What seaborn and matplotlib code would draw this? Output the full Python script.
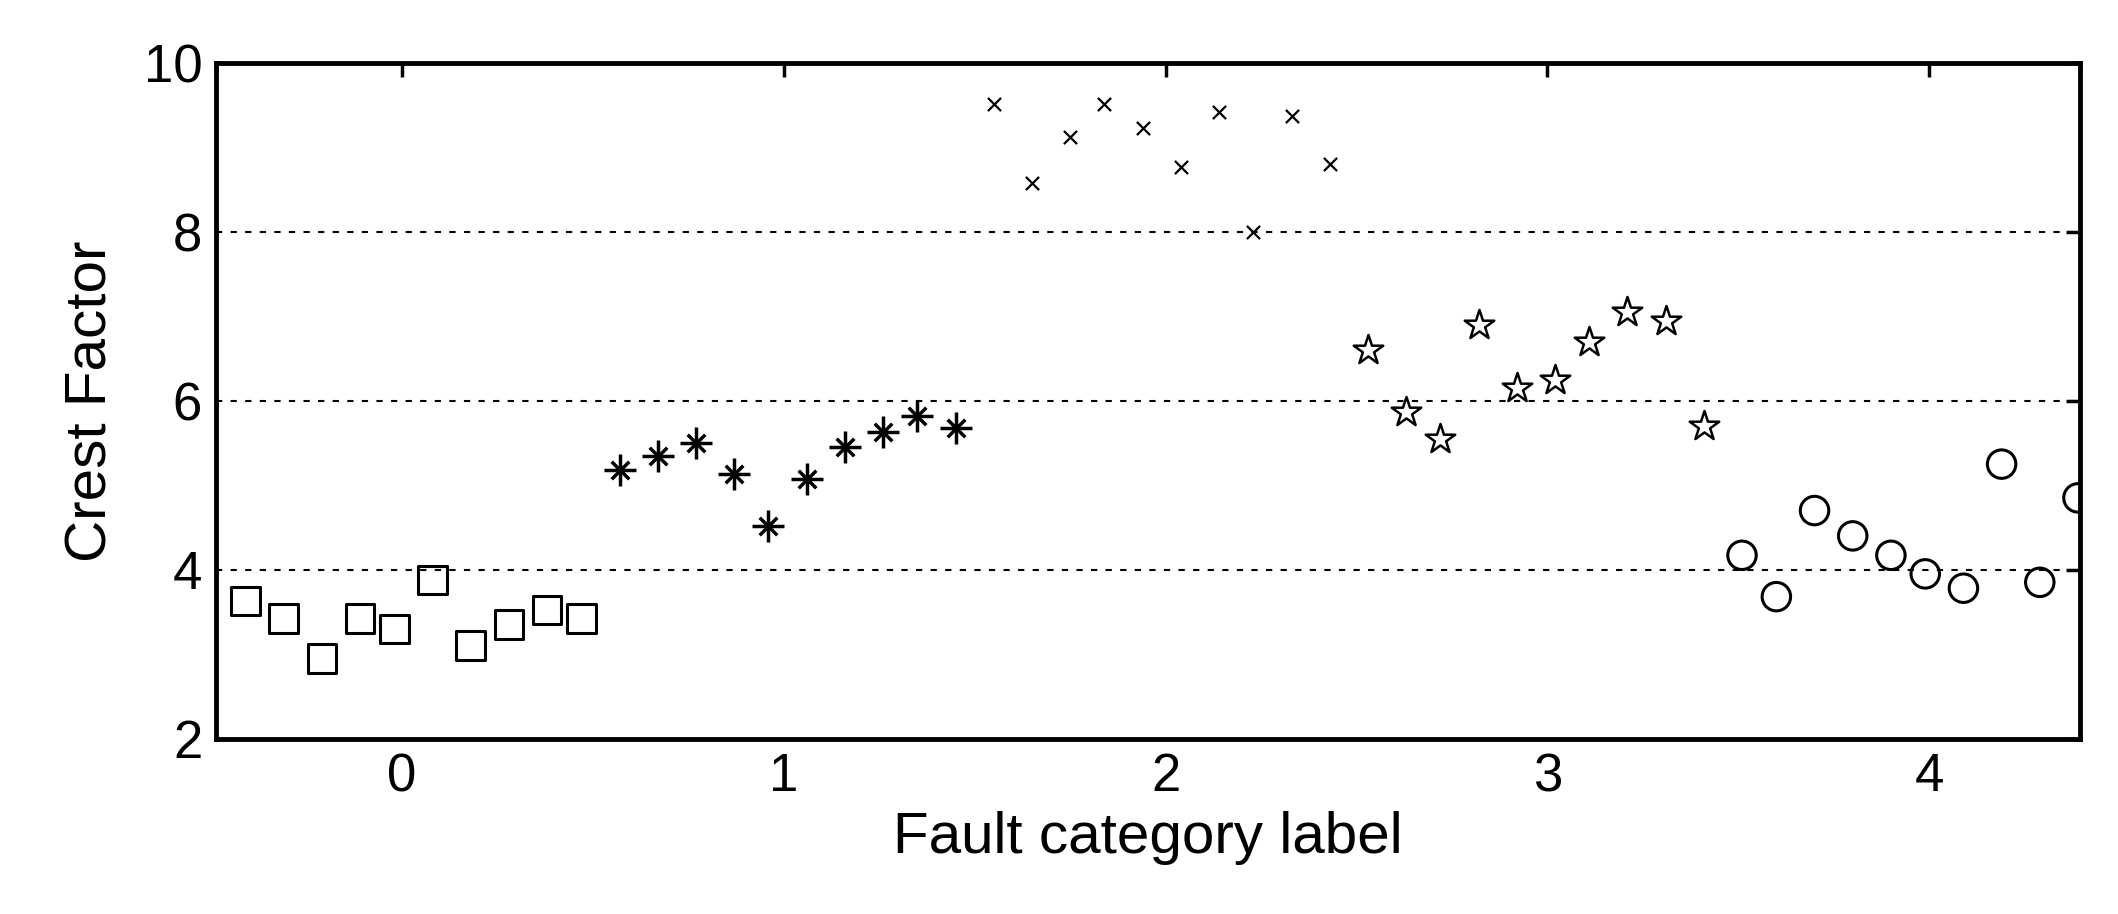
import numpy as np
import pandas as pd
import matplotlib
matplotlib.use("Agg")
import matplotlib.pyplot as plt
import seaborn as sns

x_vals = [-0.41,-0.31,-0.21,-0.11,-0.02,0.08,0.18,0.28,0.38,0.47,
          0.57,0.67,0.77,0.87,0.96,1.06,1.16,1.26,1.35,1.45,
          1.55,1.65,1.75,1.84,1.94,2.04,2.14,2.23,2.33,2.43,
          2.53,2.63,2.72,2.82,2.92,3.02,3.11,3.21,3.31,3.41,
          3.51,3.60,3.70,3.80,3.90,3.99,4.09,4.19,4.29,4.39]
cf_square = [3.63,3.42,2.95,3.42,3.30,3.88,3.10,3.35,3.52,3.42]
cf_aster = [5.18,5.35,5.50,5.13,4.52,5.07,5.45,5.63,5.82,5.68]
cf_x = [9.52,8.58,9.12,9.52,9.23,8.77,9.42,8.00,9.37,8.80]
cf_star = [6.60,5.87,5.55,6.90,6.15,6.25,6.70,7.05,6.95,5.70]
cf_circle = [4.17,3.68,4.70,4.40,4.17,3.95,3.78,5.25,3.85,4.85]

sns.set_style("white")
plt.rcParams['font.family'] = ['Liberation Sans', 'DejaVu Sans']
plt.rcParams['text.color'] = 'black'
plt.rcParams['axes.labelcolor'] = 'black'
plt.rcParams['xtick.color'] = 'black'
plt.rcParams['ytick.color'] = 'black'

fig = plt.figure(figsize=(21.18, 9.14), dpi=100)
ax = fig.add_axes([0.102, 0.192, 0.880, 0.739])

def scat(xs, ys, **kw):
    df = pd.DataFrame({"x": xs, "y": ys})
    sns.scatterplot(data=df, x="x", y="y", ax=ax, legend=False, **kw)

scat(x_vals[0:10], cf_square, marker='s', s=420, facecolors='none', edgecolors='black', linewidth=2.2)
scat(x_vals[10:20], cf_aster, marker='+', s=520, color='black', linewidth=2.5)
scat(x_vals[10:20], cf_aster, marker='x', s=160, color='black', linewidth=2.5)
scat(x_vals[20:30], cf_x, marker='x', s=90, color='black', linewidth=1.6)
scat(x_vals[30:40], cf_star, marker='*', s=500, facecolors='white', edgecolors='black', linewidth=1.8)
scat(x_vals[40:50], cf_circle, marker='o', s=420, facecolors='none', edgecolors='black', linewidth=2.2)

ax.set_xlim(-0.487, 4.395)
ax.set_ylim(2, 10)
ax.set_xticks([0, 1, 2, 3, 4])
ax.set_yticks([2, 4, 6, 8, 10])
for yv in [4, 6, 8]:
    ax.axhline(yv, color='black', linestyle=(0, (3, 4)), linewidth=1.5, zorder=0)
ax.tick_params(direction='in', length=10, width=2.5, labelsize=38, pad=10,
               top=True, right=True, colors='black')
for sp in ax.spines.values():
    sp.set_linewidth(3.5)
    sp.set_color('black')
ax.set_xlabel("Fault category label", fontsize=42, labelpad=6)
ax.set_ylabel("Crest Factor", fontsize=42, labelpad=18)
fig.savefig("out.png", dpi=100)
